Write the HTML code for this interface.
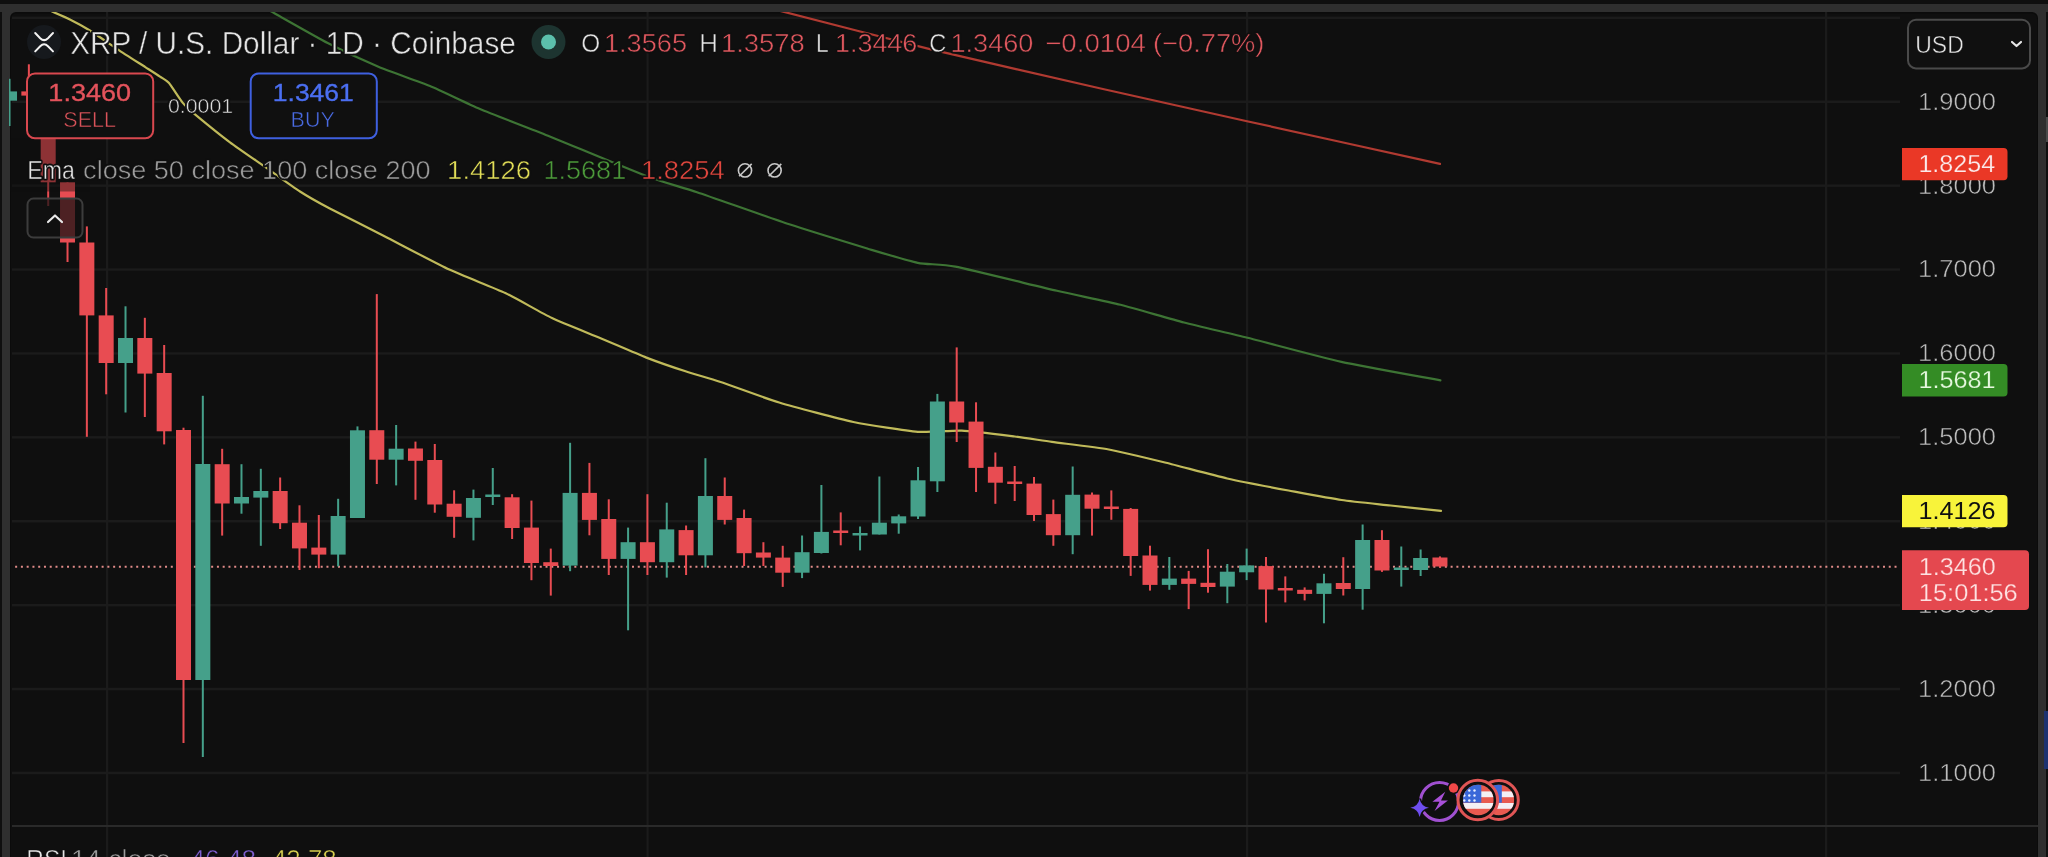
<!DOCTYPE html>
<html><head><meta charset="utf-8"><style>
html,body{margin:0;padding:0;background:#0f0f0f;width:2048px;height:857px;overflow:hidden}
svg text{font-family:"Liberation Sans",sans-serif}
</style></head><body>
<svg width="2048" height="857" viewBox="0 0 2048 857" style="position:absolute;left:0;top:0;will-change:transform">
<defs><clipPath id="pane"><rect x="9" y="12" width="2029" height="900" rx="6"/></clipPath></defs>
<rect x="0" y="4" width="2048" height="8" fill="#2f2f2f"/>
<rect x="2" y="4" width="2044" height="900" fill="#2f2f2f"/>
<rect x="10" y="12" width="2028" height="900" rx="6" fill="#0b0b0b"/>
<rect x="11" y="13.5" width="2026" height="900" rx="5" fill="#0f0f0f"/>
<rect x="2044" y="711" width="4" height="58" fill="#1d3270"/>
<rect x="2046" y="117" width="2" height="25" fill="#4a4a4a"/>
<g clip-path="url(#pane)">
<rect x="12" y="16.60" width="1888" height="2.5" fill="#1b1b1b"/>
<rect x="12" y="100.50" width="1888" height="2.5" fill="#1b1b1b"/>
<rect x="12" y="184.40" width="1888" height="2.5" fill="#1b1b1b"/>
<rect x="12" y="268.30" width="1888" height="2.5" fill="#1b1b1b"/>
<rect x="12" y="352.20" width="1888" height="2.5" fill="#1b1b1b"/>
<rect x="12" y="436.10" width="1888" height="2.5" fill="#1b1b1b"/>
<rect x="12" y="520.00" width="1888" height="2.5" fill="#1b1b1b"/>
<rect x="12" y="603.90" width="1888" height="2.5" fill="#1b1b1b"/>
<rect x="12" y="687.80" width="1888" height="2.5" fill="#1b1b1b"/>
<rect x="12" y="771.70" width="1888" height="2.5" fill="#1b1b1b"/>
<rect x="106.0" y="12" width="2.2" height="845" fill="#1b1b1b"/>
<rect x="646.5" y="12" width="2.2" height="845" fill="#1b1b1b"/>
<rect x="1246.0" y="12" width="2.2" height="845" fill="#1b1b1b"/>
<rect x="1825.0" y="12" width="2.2" height="845" fill="#1b1b1b"/>
<path d="M740.0,2.0 C743.7,2.8 757.9,5.4 777.0,10.1 C796.1,14.8 898.4,41.5 930.9,49.4 C963.4,57.3 1070.2,81.5 1101.8,88.7 C1133.4,95.9 1213.2,113.7 1247.0,121.2 C1280.8,128.7 1420.7,159.6 1440.0,163.9" fill="none" stroke="#b03a31" stroke-width="2.2" stroke-linejoin="round" stroke-linecap="round"/>
<path d="M255.0,3.0 C256.5,3.8 262.9,6.9 270.2,10.9 C277.5,14.9 316.9,37.4 327.7,43.0 C338.5,48.6 368.2,62.5 378.4,66.8 C388.6,71.1 419.8,81.8 430.0,86.0 C440.2,90.2 468.2,104.0 480.0,109.0 C491.8,114.0 531.2,128.9 548.0,135.7 C564.8,142.5 633.3,171.2 648.2,176.8 C663.1,182.5 682.9,187.4 697.0,192.2 C711.1,196.9 772.2,218.7 789.3,224.3 C806.4,230.0 855.0,244.8 867.8,248.7 C880.6,252.5 908.9,261.0 917.7,262.8 C926.5,264.6 941.5,263.9 955.4,266.7 C969.3,269.5 1040.5,287.0 1057.0,290.8 C1073.5,294.6 1107.8,301.6 1120.5,304.8 C1133.2,308.0 1171.3,319.2 1184.0,322.5 C1196.7,325.8 1231.7,333.9 1247.4,337.8 C1263.1,341.7 1322.1,357.6 1341.4,361.9 C1360.7,366.2 1430.5,378.5 1440.4,380.4" fill="none" stroke="#3d7434" stroke-width="2.2" stroke-linejoin="round" stroke-linecap="round"/>
<path d="M38.0,5.0 C39.3,5.6 47.9,9.7 51.1,11.1 C54.3,12.5 66.0,17.5 69.9,19.4 C73.8,21.3 85.1,27.5 89.9,30.5 C94.7,33.5 112.1,45.6 117.6,49.3 C123.1,53.0 141.1,64.4 145.3,67.1 C149.5,69.8 157.7,75.0 160.0,76.6 C162.3,78.2 166.5,80.2 168.8,82.8 C171.1,85.4 180.2,99.8 182.8,102.9 C185.4,106.1 190.3,110.4 195.0,114.3 C199.7,118.2 223.0,137.1 230.0,142.3 C237.0,147.6 258.0,161.9 265.0,166.8 C272.0,171.7 293.5,187.3 300.0,191.5 C306.5,195.7 321.4,204.1 329.8,208.5 C338.2,212.9 372.1,229.9 384.0,236.0 C395.9,242.1 437.2,263.9 449.3,269.6 C461.4,275.3 495.0,288.1 505.3,293.0 C515.6,297.9 542.5,313.6 552.0,318.1 C561.5,322.6 590.6,334.1 600.0,338.0 C609.4,341.9 637.9,354.3 646.4,357.6 C654.9,360.9 678.1,368.9 685.5,371.3 C692.9,373.7 711.2,378.9 720.6,382.0 C730.0,385.1 765.9,398.5 779.2,402.5 C792.5,406.5 839.5,419.1 853.4,422.0 C867.3,424.9 907.1,430.9 917.9,431.8 C928.7,432.7 952.0,430.1 961.7,430.6 C971.4,431.1 1005.8,435.4 1014.8,436.5 C1023.8,437.6 1042.6,440.6 1052.0,441.9 C1061.4,443.2 1097.4,447.4 1108.8,449.5 C1120.2,451.6 1154.2,459.9 1166.0,462.8 C1177.8,465.7 1215.0,475.7 1227.2,478.5 C1239.5,481.3 1277.1,488.4 1288.5,490.5 C1299.9,492.6 1331.4,498.5 1341.6,500.0 C1351.8,501.5 1380.7,504.4 1390.6,505.5 C1400.5,506.6 1436.0,510.3 1441.0,510.8" fill="none" stroke="#c0ba5a" stroke-width="2.2" stroke-linejoin="round" stroke-linecap="round"/>
<rect x="12" y="825" width="2026" height="2" fill="#2a2a2a"/>
<line x1="12" y1="566.8" x2="1900" y2="566.8" stroke="#e08a88" stroke-width="2" stroke-dasharray="2 3.765" stroke-dashoffset="2.625"/>
<rect x="8.53" y="78.8" width="2" height="47.2" fill="#45a08a"/>
<rect x="2.03" y="91.4" width="15" height="9.3" fill="#45a08a"/>
<rect x="27.86" y="64.3" width="2" height="47.7" fill="#e84c52"/>
<rect x="21.36" y="91.4" width="15" height="4.2" fill="#e84c52"/>
<rect x="47.19" y="88.0" width="2" height="118.0" fill="#e84c52"/>
<rect x="40.69" y="95.6" width="15" height="86.7" fill="#e84c52"/>
<rect x="66.52" y="182.3" width="2" height="79.7" fill="#e84c52"/>
<rect x="60.02" y="182.3" width="15" height="60.2" fill="#e84c52"/>
<rect x="85.85" y="226.4" width="2" height="210.4" fill="#e84c52"/>
<rect x="79.35" y="242.5" width="15" height="72.9" fill="#e84c52"/>
<rect x="105.18" y="288.0" width="2" height="106.3" fill="#e84c52"/>
<rect x="98.68" y="315.4" width="15" height="47.6" fill="#e84c52"/>
<rect x="124.51" y="306.3" width="2" height="106.2" fill="#45a08a"/>
<rect x="118.01" y="338.0" width="15" height="25.0" fill="#45a08a"/>
<rect x="143.84" y="317.8" width="2" height="99.2" fill="#e84c52"/>
<rect x="137.34" y="338.0" width="15" height="35.6" fill="#e84c52"/>
<rect x="163.17" y="345.0" width="2" height="99.4" fill="#e84c52"/>
<rect x="156.67" y="373.0" width="15" height="58.3" fill="#e84c52"/>
<rect x="182.50" y="427.7" width="2" height="315.3" fill="#e84c52"/>
<rect x="176.00" y="430.0" width="15" height="250.0" fill="#e84c52"/>
<rect x="201.83" y="395.8" width="2" height="361.2" fill="#45a08a"/>
<rect x="195.33" y="464.0" width="15" height="216.0" fill="#45a08a"/>
<rect x="221.16" y="448.8" width="2" height="86.8" fill="#e84c52"/>
<rect x="214.66" y="464.2" width="15" height="39.3" fill="#e84c52"/>
<rect x="240.49" y="464.2" width="2" height="49.5" fill="#45a08a"/>
<rect x="233.99" y="497.0" width="15" height="6.5" fill="#45a08a"/>
<rect x="259.82" y="468.8" width="2" height="77.0" fill="#45a08a"/>
<rect x="253.32" y="491.0" width="15" height="6.6" fill="#45a08a"/>
<rect x="279.15" y="477.5" width="2" height="51.5" fill="#e84c52"/>
<rect x="272.65" y="491.0" width="15" height="32.2" fill="#e84c52"/>
<rect x="298.48" y="505.3" width="2" height="64.7" fill="#e84c52"/>
<rect x="291.98" y="522.7" width="15" height="25.7" fill="#e84c52"/>
<rect x="317.81" y="515.0" width="2" height="53.2" fill="#e84c52"/>
<rect x="311.31" y="547.6" width="15" height="7.0" fill="#e84c52"/>
<rect x="337.14" y="498.8" width="2" height="67.6" fill="#45a08a"/>
<rect x="330.64" y="516.0" width="15" height="38.6" fill="#45a08a"/>
<rect x="356.47" y="426.4" width="2" height="91.6" fill="#45a08a"/>
<rect x="349.97" y="430.3" width="15" height="87.7" fill="#45a08a"/>
<rect x="375.80" y="294.1" width="2" height="189.9" fill="#e84c52"/>
<rect x="369.30" y="430.2" width="15" height="29.5" fill="#e84c52"/>
<rect x="395.13" y="425.0" width="2" height="60.4" fill="#45a08a"/>
<rect x="388.63" y="448.7" width="15" height="11.0" fill="#45a08a"/>
<rect x="414.46" y="441.6" width="2" height="58.2" fill="#e84c52"/>
<rect x="407.96" y="448.5" width="15" height="12.3" fill="#e84c52"/>
<rect x="433.79" y="444.0" width="2" height="68.7" fill="#e84c52"/>
<rect x="427.29" y="460.0" width="15" height="44.5" fill="#e84c52"/>
<rect x="453.12" y="490.3" width="2" height="47.5" fill="#e84c52"/>
<rect x="446.62" y="503.7" width="15" height="13.1" fill="#e84c52"/>
<rect x="472.45" y="489.6" width="2" height="50.8" fill="#45a08a"/>
<rect x="465.95" y="498.0" width="15" height="19.8" fill="#45a08a"/>
<rect x="491.78" y="468.0" width="2" height="37.0" fill="#45a08a"/>
<rect x="485.28" y="494.5" width="15" height="2.5" fill="#45a08a"/>
<rect x="511.11" y="494.2" width="2" height="44.8" fill="#e84c52"/>
<rect x="504.61" y="497.3" width="15" height="30.7" fill="#e84c52"/>
<rect x="530.44" y="500.6" width="2" height="79.6" fill="#e84c52"/>
<rect x="523.94" y="527.6" width="15" height="35.4" fill="#e84c52"/>
<rect x="549.77" y="548.6" width="2" height="47.0" fill="#e84c52"/>
<rect x="543.27" y="562.2" width="15" height="3.8" fill="#e84c52"/>
<rect x="569.10" y="442.8" width="2" height="128.4" fill="#45a08a"/>
<rect x="562.60" y="492.9" width="15" height="72.7" fill="#45a08a"/>
<rect x="588.43" y="462.9" width="2" height="72.4" fill="#e84c52"/>
<rect x="581.93" y="492.9" width="15" height="27.0" fill="#e84c52"/>
<rect x="607.76" y="499.3" width="2" height="75.7" fill="#e84c52"/>
<rect x="601.26" y="519.0" width="15" height="39.9" fill="#e84c52"/>
<rect x="627.09" y="527.6" width="2" height="102.7" fill="#45a08a"/>
<rect x="620.59" y="542.2" width="15" height="16.7" fill="#45a08a"/>
<rect x="646.42" y="494.2" width="2" height="80.8" fill="#e84c52"/>
<rect x="639.92" y="542.2" width="15" height="20.0" fill="#e84c52"/>
<rect x="665.75" y="502.7" width="2" height="74.9" fill="#45a08a"/>
<rect x="659.25" y="529.4" width="15" height="32.8" fill="#45a08a"/>
<rect x="685.08" y="525.5" width="2" height="49.5" fill="#e84c52"/>
<rect x="678.58" y="530.1" width="15" height="25.2" fill="#e84c52"/>
<rect x="704.41" y="458.2" width="2" height="109.2" fill="#45a08a"/>
<rect x="697.91" y="496.0" width="15" height="59.3" fill="#45a08a"/>
<rect x="723.74" y="477.5" width="2" height="47.0" fill="#e84c52"/>
<rect x="717.24" y="496.0" width="15" height="23.9" fill="#e84c52"/>
<rect x="743.07" y="509.6" width="2" height="56.4" fill="#e84c52"/>
<rect x="736.57" y="518.0" width="15" height="35.2" fill="#e84c52"/>
<rect x="762.40" y="542.2" width="2" height="23.8" fill="#e84c52"/>
<rect x="755.90" y="552.5" width="15" height="5.1" fill="#e84c52"/>
<rect x="781.73" y="545.8" width="2" height="41.1" fill="#e84c52"/>
<rect x="775.23" y="557.6" width="15" height="15.1" fill="#e84c52"/>
<rect x="801.06" y="535.5" width="2" height="42.6" fill="#45a08a"/>
<rect x="794.56" y="552.2" width="15" height="20.5" fill="#45a08a"/>
<rect x="820.39" y="485.0" width="2" height="68.5" fill="#45a08a"/>
<rect x="813.89" y="531.9" width="15" height="21.1" fill="#45a08a"/>
<rect x="839.72" y="512.4" width="2" height="32.9" fill="#e84c52"/>
<rect x="833.22" y="530.5" width="15" height="2.5" fill="#e84c52"/>
<rect x="859.05" y="526.5" width="2" height="23.9" fill="#45a08a"/>
<rect x="852.55" y="533.0" width="15" height="2.5" fill="#45a08a"/>
<rect x="878.38" y="476.5" width="2" height="58.0" fill="#45a08a"/>
<rect x="871.88" y="522.7" width="15" height="11.8" fill="#45a08a"/>
<rect x="897.71" y="514.5" width="2" height="19.2" fill="#45a08a"/>
<rect x="891.21" y="516.3" width="15" height="7.1" fill="#45a08a"/>
<rect x="917.04" y="467.0" width="2" height="52.0" fill="#45a08a"/>
<rect x="910.54" y="480.3" width="15" height="36.2" fill="#45a08a"/>
<rect x="936.37" y="393.9" width="2" height="98.1" fill="#45a08a"/>
<rect x="929.87" y="401.5" width="15" height="79.8" fill="#45a08a"/>
<rect x="955.70" y="347.4" width="2" height="94.6" fill="#e84c52"/>
<rect x="949.20" y="401.5" width="15" height="21.0" fill="#e84c52"/>
<rect x="975.03" y="402.3" width="2" height="89.7" fill="#e84c52"/>
<rect x="968.53" y="421.6" width="15" height="46.3" fill="#e84c52"/>
<rect x="994.36" y="452.5" width="2" height="51.3" fill="#e84c52"/>
<rect x="987.86" y="466.8" width="15" height="15.9" fill="#e84c52"/>
<rect x="1013.69" y="466.0" width="2" height="35.0" fill="#e84c52"/>
<rect x="1007.19" y="481.5" width="15" height="2.5" fill="#e84c52"/>
<rect x="1033.02" y="477.0" width="2" height="44.0" fill="#e84c52"/>
<rect x="1026.52" y="483.6" width="15" height="31.4" fill="#e84c52"/>
<rect x="1052.35" y="499.6" width="2" height="46.2" fill="#e84c52"/>
<rect x="1045.85" y="514.1" width="15" height="21.1" fill="#e84c52"/>
<rect x="1071.68" y="466.5" width="2" height="87.7" fill="#45a08a"/>
<rect x="1065.18" y="494.8" width="15" height="40.4" fill="#45a08a"/>
<rect x="1091.01" y="492.5" width="2" height="43.1" fill="#e84c52"/>
<rect x="1084.51" y="494.6" width="15" height="14.1" fill="#e84c52"/>
<rect x="1110.34" y="490.4" width="2" height="29.4" fill="#e84c52"/>
<rect x="1103.84" y="506.5" width="15" height="2.5" fill="#e84c52"/>
<rect x="1129.67" y="508.0" width="2" height="67.9" fill="#e84c52"/>
<rect x="1123.17" y="508.9" width="15" height="47.1" fill="#e84c52"/>
<rect x="1149.00" y="545.7" width="2" height="44.9" fill="#e84c52"/>
<rect x="1142.50" y="555.5" width="15" height="29.4" fill="#e84c52"/>
<rect x="1168.33" y="557.0" width="2" height="32.8" fill="#45a08a"/>
<rect x="1161.83" y="578.6" width="15" height="6.3" fill="#45a08a"/>
<rect x="1187.66" y="570.9" width="2" height="38.2" fill="#e84c52"/>
<rect x="1181.16" y="578.6" width="15" height="5.3" fill="#e84c52"/>
<rect x="1206.99" y="549.2" width="2" height="43.5" fill="#e84c52"/>
<rect x="1200.49" y="582.8" width="15" height="4.2" fill="#e84c52"/>
<rect x="1226.32" y="564.0" width="2" height="39.2" fill="#45a08a"/>
<rect x="1219.82" y="571.7" width="15" height="14.9" fill="#45a08a"/>
<rect x="1245.65" y="548.6" width="2" height="31.5" fill="#45a08a"/>
<rect x="1239.15" y="565.4" width="15" height="6.9" fill="#45a08a"/>
<rect x="1264.98" y="557.0" width="2" height="65.5" fill="#e84c52"/>
<rect x="1258.48" y="566.1" width="15" height="23.4" fill="#e84c52"/>
<rect x="1284.31" y="576.4" width="2" height="26.0" fill="#e84c52"/>
<rect x="1277.81" y="588.0" width="15" height="2.5" fill="#e84c52"/>
<rect x="1303.64" y="587.4" width="2" height="13.0" fill="#e84c52"/>
<rect x="1297.14" y="589.8" width="15" height="4.1" fill="#e84c52"/>
<rect x="1322.97" y="573.8" width="2" height="49.5" fill="#45a08a"/>
<rect x="1316.47" y="583.3" width="15" height="10.6" fill="#45a08a"/>
<rect x="1342.30" y="557.2" width="2" height="38.3" fill="#e84c52"/>
<rect x="1335.80" y="583.0" width="15" height="6.0" fill="#e84c52"/>
<rect x="1361.63" y="524.5" width="2" height="85.2" fill="#45a08a"/>
<rect x="1355.13" y="540.0" width="15" height="49.0" fill="#45a08a"/>
<rect x="1380.96" y="530.2" width="2" height="41.7" fill="#e84c52"/>
<rect x="1374.46" y="540.0" width="15" height="30.5" fill="#e84c52"/>
<rect x="1400.29" y="546.5" width="2" height="40.1" fill="#45a08a"/>
<rect x="1393.79" y="567.5" width="15" height="2.5" fill="#45a08a"/>
<rect x="1419.62" y="549.5" width="2" height="26.5" fill="#45a08a"/>
<rect x="1413.12" y="558.0" width="15" height="12.0" fill="#45a08a"/>
<rect x="1438.95" y="556.4" width="2" height="11.1" fill="#e84c52"/>
<rect x="1432.45" y="557.5" width="15" height="9.0" fill="#e84c52"/>
<!-- legend overlays -->
<rect x="10" y="138.5" width="80" height="53" fill="#0f0f0f" fill-opacity="0.42"/>
<rect x="27" y="73.4" width="126.2" height="64.9" rx="8" fill="#101010" stroke="#d9484f" stroke-width="2"/>
<rect x="250.7" y="73.4" width="126.1" height="64.9" rx="8" fill="#101010" stroke="#3f60e0" stroke-width="2"/>
<rect x="27.5" y="198.6" width="55" height="39" rx="6" fill="#101010" fill-opacity="0.72" stroke="#3c3c3c" stroke-width="2"/>
<polyline points="48,222 55,215.5 62,222" fill="none" stroke="#e8e8e8" stroke-width="2.2" stroke-linecap="round" stroke-linejoin="round"/>
<circle cx="44" cy="42" r="17" fill="#16191d"/>
<circle cx="548.5" cy="42" r="17" fill="#1d3430"/>
<circle cx="548.5" cy="42" r="7.5" fill="#5cc0ac"/>
<text x="70.16" y="53.8" textLength="445.65" lengthAdjust="spacingAndGlyphs" style="font-size:31.45px;" fill="none" stroke="#0f0f0f" stroke-width="3" stroke-linejoin="round">XRP / U.S. Dollar · 1D · Coinbase</text><text x="70.16" y="53.8" textLength="445.65" lengthAdjust="spacingAndGlyphs" style="font-size:31.45px;" fill="#e4e4e4" stroke="#0f0f0f" stroke-width="0.5">XRP / U.S. Dollar · 1D · Coinbase</text>
<text x="581.2" y="52" textLength="18.96" lengthAdjust="spacingAndGlyphs" style="font-size:25.8px;" fill="none" stroke="#0f0f0f" stroke-width="3" stroke-linejoin="round">O</text><text x="581.2" y="52" textLength="18.96" lengthAdjust="spacingAndGlyphs" style="font-size:25.8px;" fill="#e4e4e4" stroke="#0f0f0f" stroke-width="0.5">O</text>
<text x="603.96" y="52" textLength="83.09" lengthAdjust="spacingAndGlyphs" style="font-size:25.8px;" fill="none" stroke="#0f0f0f" stroke-width="3" stroke-linejoin="round">1.3565</text><text x="603.96" y="52" textLength="83.09" lengthAdjust="spacingAndGlyphs" style="font-size:25.8px;" fill="#e0585f" stroke="#0f0f0f" stroke-width="0.5">1.3565</text>
<text x="699.13" y="52" textLength="18.7" lengthAdjust="spacingAndGlyphs" style="font-size:25.8px;" fill="none" stroke="#0f0f0f" stroke-width="3" stroke-linejoin="round">H</text><text x="699.13" y="52" textLength="18.7" lengthAdjust="spacingAndGlyphs" style="font-size:25.8px;" fill="#e4e4e4" stroke="#0f0f0f" stroke-width="0.5">H</text>
<text x="720.94" y="52" textLength="83.92" lengthAdjust="spacingAndGlyphs" style="font-size:25.8px;" fill="none" stroke="#0f0f0f" stroke-width="3" stroke-linejoin="round">1.3578</text><text x="720.94" y="52" textLength="83.92" lengthAdjust="spacingAndGlyphs" style="font-size:25.8px;" fill="#e0585f" stroke="#0f0f0f" stroke-width="0.5">1.3578</text>
<text x="815.97" y="52" textLength="12.75" lengthAdjust="spacingAndGlyphs" style="font-size:25.8px;" fill="none" stroke="#0f0f0f" stroke-width="3" stroke-linejoin="round">L</text><text x="815.97" y="52" textLength="12.75" lengthAdjust="spacingAndGlyphs" style="font-size:25.8px;" fill="#e4e4e4" stroke="#0f0f0f" stroke-width="0.5">L</text>
<text x="834.98" y="52" textLength="82.36" lengthAdjust="spacingAndGlyphs" style="font-size:25.8px;" fill="none" stroke="#0f0f0f" stroke-width="3" stroke-linejoin="round">1.3446</text><text x="834.98" y="52" textLength="82.36" lengthAdjust="spacingAndGlyphs" style="font-size:25.8px;" fill="#e0585f" stroke="#0f0f0f" stroke-width="0.5">1.3446</text>
<text x="929.32" y="52" textLength="17.06" lengthAdjust="spacingAndGlyphs" style="font-size:25.8px;" fill="none" stroke="#0f0f0f" stroke-width="3" stroke-linejoin="round">C</text><text x="929.32" y="52" textLength="17.06" lengthAdjust="spacingAndGlyphs" style="font-size:25.8px;" fill="#e4e4e4" stroke="#0f0f0f" stroke-width="0.5">C</text>
<text x="950.47" y="52" textLength="82.95" lengthAdjust="spacingAndGlyphs" style="font-size:25.8px;" fill="none" stroke="#0f0f0f" stroke-width="3" stroke-linejoin="round">1.3460</text><text x="950.47" y="52" textLength="82.95" lengthAdjust="spacingAndGlyphs" style="font-size:25.8px;" fill="#e0585f" stroke="#0f0f0f" stroke-width="0.5">1.3460</text>
<text x="1045.22" y="52" textLength="100.68" lengthAdjust="spacingAndGlyphs" style="font-size:25.8px;" fill="none" stroke="#0f0f0f" stroke-width="3" stroke-linejoin="round">−0.0104</text><text x="1045.22" y="52" textLength="100.68" lengthAdjust="spacingAndGlyphs" style="font-size:25.8px;" fill="#e0585f" stroke="#0f0f0f" stroke-width="0.5">−0.0104</text>
<text x="1153.06" y="52" textLength="111.39" lengthAdjust="spacingAndGlyphs" style="font-size:25.8px;" fill="none" stroke="#0f0f0f" stroke-width="3" stroke-linejoin="round">(−0.77%)</text><text x="1153.06" y="52" textLength="111.39" lengthAdjust="spacingAndGlyphs" style="font-size:25.8px;" fill="#e0585f" stroke="#0f0f0f" stroke-width="0.5">(−0.77%)</text>
<text x="27.25" y="178.7" textLength="47.58" lengthAdjust="spacingAndGlyphs" style="font-size:25.07px;" fill="none" stroke="#0f0f0f" stroke-width="3" stroke-linejoin="round">Ema</text><text x="27.25" y="178.7" textLength="47.58" lengthAdjust="spacingAndGlyphs" style="font-size:25.07px;" fill="#e4e4e4" stroke="#0f0f0f" stroke-width="0.5">Ema</text>
<text x="83.12" y="178.7" textLength="347.48" lengthAdjust="spacingAndGlyphs" style="font-size:25.07px;" fill="none" stroke="#0f0f0f" stroke-width="3" stroke-linejoin="round">close 50 close 100 close 200</text><text x="83.12" y="178.7" textLength="347.48" lengthAdjust="spacingAndGlyphs" style="font-size:25.07px;" fill="#9c9c9c" stroke="#0f0f0f" stroke-width="0.5">close 50 close 100 close 200</text>
<text x="447.14" y="178.7" textLength="83.92" lengthAdjust="spacingAndGlyphs" style="font-size:25.07px;" fill="none" stroke="#0f0f0f" stroke-width="3" stroke-linejoin="round">1.4126</text><text x="447.14" y="178.7" textLength="83.92" lengthAdjust="spacingAndGlyphs" style="font-size:25.07px;" fill="#e2de58" stroke="#0f0f0f" stroke-width="0.5">1.4126</text>
<text x="543.47" y="178.7" textLength="82.71" lengthAdjust="spacingAndGlyphs" style="font-size:25.07px;" fill="none" stroke="#0f0f0f" stroke-width="3" stroke-linejoin="round">1.5681</text><text x="543.47" y="178.7" textLength="82.71" lengthAdjust="spacingAndGlyphs" style="font-size:25.07px;" fill="#4c9a3a" stroke="#0f0f0f" stroke-width="0.5">1.5681</text>
<text x="640.94" y="178.7" textLength="83.84" lengthAdjust="spacingAndGlyphs" style="font-size:25.07px;" fill="none" stroke="#0f0f0f" stroke-width="3" stroke-linejoin="round">1.8254</text><text x="640.94" y="178.7" textLength="83.84" lengthAdjust="spacingAndGlyphs" style="font-size:25.07px;" fill="#e2473e" stroke="#0f0f0f" stroke-width="0.5">1.8254</text>
<text x="48.37" y="101" textLength="82.64" lengthAdjust="spacingAndGlyphs" style="font-size:24.64px;stroke:#e4535c;stroke-width:0.35px;" fill="#e4535c">1.3460</text>
<text x="63.33" y="126.8" textLength="52.64" lengthAdjust="spacingAndGlyphs" style="font-size:22.32px;" fill="#d9535a" stroke="#0f0f0f" stroke-width="0.5">SELL</text>
<text x="167.95" y="112.7" textLength="65.29" lengthAdjust="spacingAndGlyphs" style="font-size:20.14px;" fill="none" stroke="#0f0f0f" stroke-width="3" stroke-linejoin="round">0.0001</text><text x="167.95" y="112.7" textLength="65.29" lengthAdjust="spacingAndGlyphs" style="font-size:20.14px;" fill="#dcdcdc" stroke="#0f0f0f" stroke-width="0.5">0.0001</text>
<text x="272.81" y="101" textLength="81.04" lengthAdjust="spacingAndGlyphs" style="font-size:24.64px;stroke:#4b6ff2;stroke-width:0.35px;" fill="#4b6ff2">1.3461</text>
<text x="290.58" y="126.9" textLength="44.18" lengthAdjust="spacingAndGlyphs" style="font-size:21.74px;" fill="#4a6be2" stroke="#0f0f0f" stroke-width="0.5">BUY</text>
<text x="1918.09" y="109.6" textLength="77.97" lengthAdjust="spacingAndGlyphs" style="font-size:23.62px;" fill="#bcbcbc" stroke="#0f0f0f" stroke-width="0.5">1.9000</text>
<text x="1918.09" y="193.5" textLength="77.97" lengthAdjust="spacingAndGlyphs" style="font-size:23.62px;" fill="#bcbcbc" stroke="#0f0f0f" stroke-width="0.5">1.8000</text>
<text x="1918.09" y="277.4" textLength="77.97" lengthAdjust="spacingAndGlyphs" style="font-size:23.62px;" fill="#bcbcbc" stroke="#0f0f0f" stroke-width="0.5">1.7000</text>
<text x="1918.09" y="361.3" textLength="77.97" lengthAdjust="spacingAndGlyphs" style="font-size:23.62px;" fill="#bcbcbc" stroke="#0f0f0f" stroke-width="0.5">1.6000</text>
<text x="1918.09" y="445.2" textLength="77.97" lengthAdjust="spacingAndGlyphs" style="font-size:23.62px;" fill="#bcbcbc" stroke="#0f0f0f" stroke-width="0.5">1.5000</text>
<text x="1918.09" y="529.1" textLength="77.97" lengthAdjust="spacingAndGlyphs" style="font-size:23.62px;" fill="#bcbcbc" stroke="#0f0f0f" stroke-width="0.5">1.4000</text>
<text x="1918.09" y="613.0" textLength="77.97" lengthAdjust="spacingAndGlyphs" style="font-size:23.62px;" fill="#bcbcbc" stroke="#0f0f0f" stroke-width="0.5">1.3000</text>
<text x="1918.09" y="696.9" textLength="77.97" lengthAdjust="spacingAndGlyphs" style="font-size:23.62px;" fill="#bcbcbc" stroke="#0f0f0f" stroke-width="0.5">1.2000</text>
<text x="1918.09" y="780.8" textLength="77.97" lengthAdjust="spacingAndGlyphs" style="font-size:23.62px;" fill="#bcbcbc" stroke="#0f0f0f" stroke-width="0.5">1.1000</text>
<text x="26.35" y="867.8" textLength="40.7" lengthAdjust="spacingAndGlyphs" style="font-size:25.07px;" fill="#e4e4e4" stroke="#0f0f0f" stroke-width="0.5">RSI</text>
<text x="70.99" y="867.8" textLength="99.7" lengthAdjust="spacingAndGlyphs" style="font-size:25.07px;" fill="#9c9c9c" stroke="#0f0f0f" stroke-width="0.5">14 close</text>
<text x="190.48" y="867.8" textLength="65.64" lengthAdjust="spacingAndGlyphs" style="font-size:25.07px;" fill="#7e5fd0" stroke="#0f0f0f" stroke-width="0.5">46.48</text>
<text x="271.98" y="867.8" textLength="64.72" lengthAdjust="spacingAndGlyphs" style="font-size:25.07px;" fill="#d8d050" stroke="#0f0f0f" stroke-width="0.5">42.78</text>
<path d="M35.2,33 L40.2,38.2 Q44.1,42 48,38.2 L53,33 M35.2,51.4 L40.2,46.2 Q44.1,42.4 48,46.2 L53,51.4" fill="none" stroke="#f2f2f2" stroke-width="2" stroke-linecap="round"/>
<g fill="none" stroke="#c8c8c8" stroke-width="1.6"><circle cx="745" cy="170.4" r="6.6"/><line x1="739.1" y1="176.3" x2="751.7" y2="163.9"/><circle cx="774.6" cy="170.4" r="6.6"/><line x1="768.7" y1="176.3" x2="781.3" y2="163.9"/></g>
<circle cx="1439.5" cy="801.5" r="19" fill="none" stroke="#a050d0" stroke-width="3"/>
<path d="M1445.3,791.8 L1432.4,801.7 L1439.5,801.7 L1434.5,811 L1447.9,800.5 L1441,800.5 Z" fill="#a850d8"/>
<path d="M1419.6,798.8 Q1421,806.4 1428.9,807.8 Q1421,809.2 1419.6,816.9 Q1418.2,809.2 1410.3,807.8 Q1418.2,806.4 1419.6,798.8 Z" fill="#6e4ef0" stroke="#101010" stroke-width="3" paint-order="stroke"/>
<circle cx="1453.5" cy="788" r="4.7" fill="#f04848" stroke="#101010" stroke-width="3" paint-order="stroke"/>
<defs>
<clipPath id="f1"><circle cx="1478.3" cy="800" r="15.3"/></clipPath>
<clipPath id="f2"><circle cx="1498.8" cy="800" r="15.3"/></clipPath>
<g id="flag">
<rect x="-16" y="-16" width="32" height="32" fill="#e85a50"/>
<rect x="-16" y="-8.6" width="32" height="5.8" fill="#f4f0f4"/>
<rect x="-16" y="3" width="32" height="5.8" fill="#f4f0f4"/>
<rect x="-16" y="-16" width="19" height="18.7" fill="#3a68d8"/>
<g fill="#e8f0ff"><circle cx="-9" cy="-9.5" r="1.2"/><circle cx="-3.8" cy="-9.5" r="1.2"/><circle cx="-14" cy="-4.5" r="1.2"/><circle cx="-9" cy="-4.5" r="1.2"/><circle cx="-3.8" cy="-4.5" r="1.2"/><circle cx="-14" cy="0.5" r="1.2"/><circle cx="-9" cy="0.5" r="1.2"/><circle cx="-3.8" cy="0.5" r="1.2"/></g>
</g>
</defs>
<circle cx="1498.8" cy="800" r="19.5" fill="#101010" stroke="#e05555" stroke-width="3"/>
<g clip-path="url(#f2)"><use href="#flag" x="1498.8" y="800"/></g>
<circle cx="1477.8" cy="800" r="19.8" fill="#101010" stroke="#e05555" stroke-width="3"/>
<g clip-path="url(#f1)"><use href="#flag" x="1478.3" y="800"/></g>

<path d="M1902,148 H2003.5 Q2007.5,148 2007.5,152 V176.3 Q2007.5,180.3 2003.5,180.3 H1902 Z" fill="#ea3826"/>
<text x="1918.42" y="171.8" textLength="76.8" lengthAdjust="spacingAndGlyphs" style="font-size:23.77px;" fill="#fbeaea" stroke="#ea3826" stroke-width="0.25">1.8254</text>
<path d="M1902,364 H2003.5 Q2007.5,364 2007.5,368 V392.6 Q2007.5,396.6 2003.5,396.6 H1902 Z" fill="#348c25"/>
<text x="1918.41" y="388" textLength="77.2" lengthAdjust="spacingAndGlyphs" style="font-size:23.48px;" fill="#e6f8df" stroke="#348c25" stroke-width="0.25">1.5681</text>
<path d="M1902,495.1 H2003.5 Q2007.5,495.1 2007.5,499.1 V523.3 Q2007.5,527.3 2003.5,527.3 H1902 Z" fill="#f8f33a"/>
<text x="1918.41" y="518.7" textLength="77.06" lengthAdjust="spacingAndGlyphs" style="font-size:23.77px;" fill="#101010">1.4126</text>
<path d="M1902,550.3 H2025 Q2029,550.3 2029,554.3 V606 Q2029,610 2025,610 H1902 Z" fill="#e4484f"/>
<text x="1918.81" y="574.8" textLength="77.04" lengthAdjust="spacingAndGlyphs" style="font-size:24.2px;" fill="#fde2e2" stroke="#e4484f" stroke-width="0.25">1.3460</text>
<text x="1918.79" y="601.4" textLength="98.99" lengthAdjust="spacingAndGlyphs" style="font-size:23.77px;" fill="#fde2e2" stroke="#e4484f" stroke-width="0.25">15:01:56</text>
<rect x="1908" y="19.8" width="122" height="48.6" rx="8" fill="#101010" stroke="#4a4a4a" stroke-width="2"/>
<text x="1915.28" y="52.9" textLength="48.49" lengthAdjust="spacingAndGlyphs" style="font-size:23.77px;" fill="#e6e6e6" stroke="#0f0f0f" stroke-width="0.5">USD</text>
<polyline points="2012,42 2016.5,46 2021,42" fill="none" stroke="#e6e6e6" stroke-width="2.2" stroke-linecap="round" stroke-linejoin="round"/>
</g>
</svg>
</body></html>
